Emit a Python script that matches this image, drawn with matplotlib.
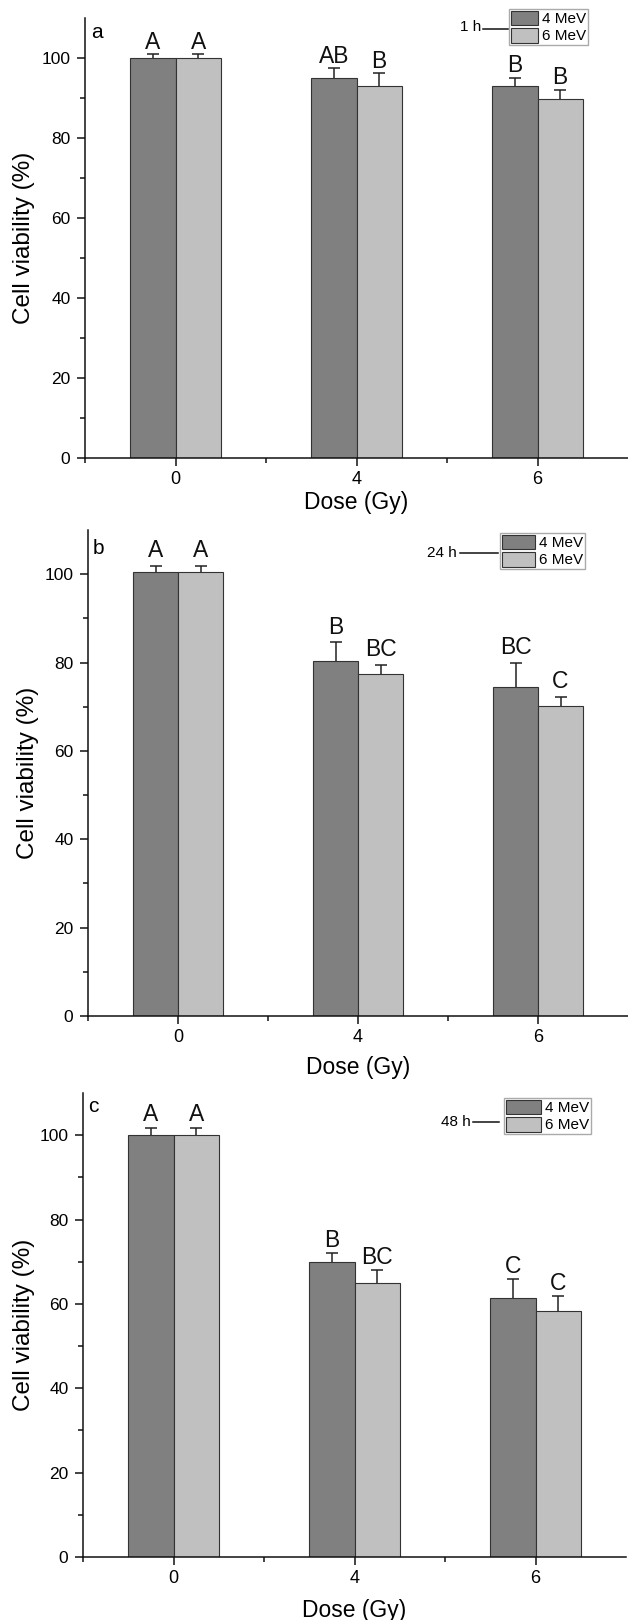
import matplotlib
matplotlib.use('Agg')
import matplotlib.pyplot as plt
from matplotlib.lines import Line2D
from matplotlib.ticker import FixedLocator
import numpy as np

plt.rcParams['font.family'] = ['Liberation Sans', 'DejaVu Sans']

# ---------------- data ----------------
doses = ['0', '4', '6']
series = ['4 MeV', '6 MeV']
times = ['1 h', '24 h', '48 h']
panel_tags = ['a', 'b', 'c']

via_1h_4MeV = [100.0, 95.0, 92.9]
err_1h_4MeV = [0.9, 2.4, 2.1]
via_1h_6MeV = [100.0, 93.0, 89.8]
err_1h_6MeV = [0.9, 3.2, 2.3]
let_1h_4MeV = ['A', 'AB', 'B']
let_1h_6MeV = ['A', 'B', 'B']

via_24h_4MeV = [100.6, 80.4, 74.4]
err_24h_4MeV = [1.3, 4.2, 5.6]
via_24h_6MeV = [100.6, 77.5, 70.1]
err_24h_6MeV = [1.3, 2.0, 2.2]
let_24h_4MeV = ['A', 'B', 'BC']
let_24h_6MeV = ['A', 'BC', 'C']

via_48h_4MeV = [100.0, 70.0, 61.5]
err_48h_4MeV = [1.8, 2.0, 4.3]
via_48h_6MeV = [100.0, 65.0, 58.4]
err_48h_6MeV = [1.8, 3.0, 3.5]
let_48h_4MeV = ['A', 'B', 'C']
let_48h_6MeV = ['A', 'BC', 'C']

panels = [
    (via_1h_4MeV, err_1h_4MeV, let_1h_4MeV, via_1h_6MeV, err_1h_6MeV, let_1h_6MeV),
    (via_24h_4MeV, err_24h_4MeV, let_24h_4MeV, via_24h_6MeV, err_24h_6MeV, let_24h_6MeV),
    (via_48h_4MeV, err_48h_4MeV, let_48h_4MeV, via_48h_6MeV, err_48h_6MeV, let_48h_6MeV),
]

# ---------------- layout (pixels) ----------------
W, H = 628, 1620
DPI = 100
ax_px = [(85, 18, 628, 458.3), (88, 530, 628, 1016), (83, 1093, 626, 1557)]
tag_px = [(97, 32), (98, 548), (93, 1107)]
leg_px = [(588, 9), (585, 533), (591, 1098)]
leg_hlen = [1.77, 2.16, 2.29]
time_txt_px = [(481.7, 27), (457, 553), (471, 1122)]
time_line_px = [(483, 508, 29), (460, 498, 553), (473, 499, 1122)]
xlab_y = [-0.1015, -0.105, -0.116]
ylab_x = [-0.113, -0.111, -0.109]
letter_off = [4.0, 6.0, 4.5]

dark = '#808080'
light = '#c0c0c0'
edge = '#333333'

def fx(x):
    return x / W

def fy(y):
    return 1 - y / H

fig = plt.figure(figsize=(W / DPI, H / DPI), dpi=DPI)
x = np.arange(len(doses))
bw = 0.25

for i, (v4, e4, l4, v6, e6, l6) in enumerate(panels):
    l, t, r, b = ax_px[i]
    ax = fig.add_axes([fx(l), fy(b), (r - l) / W, (b - t) / H])
    bars4 = ax.bar(x - bw / 2, v4, bw, color=dark, edgecolor=edge, linewidth=0.8,
                   label=series[0], zorder=2)
    bars6 = ax.bar(x + bw / 2, v6, bw, color=light, edgecolor=edge, linewidth=0.8,
                   label=series[1], zorder=2)
    for xs, vs, es, ls in [(x - bw / 2, v4, e4, l4), (x + bw / 2, v6, e6, l6)]:
        eb = ax.errorbar(xs, vs, yerr=[np.zeros(len(vs)), es], fmt='none',
                         ecolor='#222222', elinewidth=1.1, capsize=4, capthick=1.1,
                         zorder=3)
        caps = eb[1]
        if len(caps) == 2:
            caps[0].set_visible(False)
        for xx, vv, ee, tt in zip(xs, vs, es, ls):
            ax.annotate(tt, (xx, vv + ee), xytext=(0, letter_off[i]),
                        textcoords='offset points',
                        ha='center', va='baseline', fontsize=16.5, color='#111111')

    ax.set_xlim(-0.5, 2.5)
    ax.set_ylim(0, 110)
    ax.spines['top'].set_visible(False)
    ax.spines['right'].set_visible(False)
    for s in ['left', 'bottom']:
        ax.spines[s].set_linewidth(1.1)
        ax.spines[s].set_color('#111111')
    ax.set_xticks(x)
    ax.set_xticklabels(doses)
    ax.xaxis.set_minor_locator(FixedLocator([-0.5, 0.5, 1.5]))
    ax.yaxis.set_major_locator(FixedLocator([0, 20, 40, 60, 80, 100]))
    ax.yaxis.set_minor_locator(FixedLocator([10, 30, 50, 70, 90]))
    ax.tick_params(axis='both', which='major', direction='out', length=6, width=1.1,
                   color='#111111')
    ax.tick_params(axis='both', which='minor', direction='out', length=3.5, width=1.1,
                   color='#111111')
    ax.tick_params(axis='y', which='major', labelsize=12.5, pad=4.5)
    ax.tick_params(axis='x', which='major', labelsize=13, pad=3.5)

    ax.set_xlabel('Dose (Gy)', fontsize=16.5, va='center')
    ax.xaxis.set_label_coords(0.5, xlab_y[i])
    ax.set_ylabel('Cell viability (%)', fontsize=17.5, va='center')
    ax.yaxis.set_label_coords(ylab_x[i], 0.5)

    fig.text(fx(tag_px[i][0]), fy(tag_px[i][1]), panel_tags[i], fontsize=15,
             ha='center', va='center')

    leg = ax.legend(handles=[bars4, bars6], loc='upper right',
                    bbox_to_anchor=(fx(leg_px[i][0]), fy(leg_px[i][1])),
                    bbox_transform=fig.transFigure, fontsize=11, frameon=True,
                    fancybox=False, edgecolor='#aaaaaa', framealpha=1,
                    handlelength=leg_hlen[i], handleheight=1.1, labelspacing=0.12,
                    borderpad=0.1, handletextpad=0.3, borderaxespad=0)
    leg.get_frame().set_linewidth(1.0)

    fig.text(fx(time_txt_px[i][0]), fy(time_txt_px[i][1]), times[i], fontsize=11,
             ha='right', va='center')
    x0, x1, yl = time_line_px[i]
    fig.add_artist(Line2D([fx(x0), fx(x1)], [fy(yl), fy(yl)], color='#111111',
                          linewidth=1.1, transform=fig.transFigure))

fig.savefig('out.png', dpi=DPI)
